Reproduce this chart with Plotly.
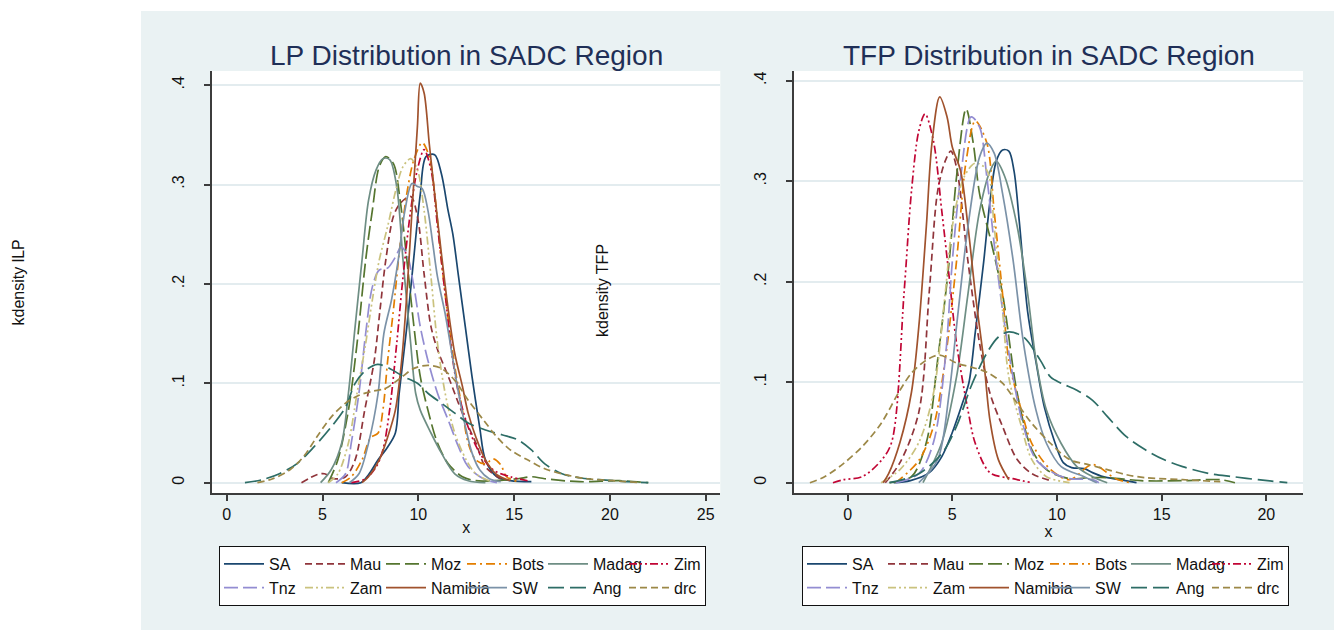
import plotly.graph_objects as go

# ---------------- data ----------------
countries = ["SA", "Mau", "Moz", "Bots", "Madag", "Zim", "Tnz", "Zam", "Namibia", "SW", "Ang", "drc"]
colors = ["#1A476F", "#90353B", "#55752F", "#E37E00", "#6E8E84", "#C10534",
          "#938DD2", "#CAC27E", "#A0522D", "#7B92A8", "#2D6D66", "#9C8847"]
dashes = ["solid", "7px,4px", "14px,5px", "9px,4px,2px,4px", "solid", "8px,3px,2px,3px,2px,3px",
          "14px,5px", "8px,3px,2px,3px,2px,3px", "solid", "solid", "16px,6px", "7px,4px"]

x_ticks_lp = [0, 5, 10, 15, 20, 25]
x_ticks_tfp = [0, 5, 10, 15, 20]
y_ticks = [0, 0.1, 0.2, 0.3, 0.4]
y_tick_labels = ["0", ".1", ".2", ".3", ".4"]

# ---- LP panel (kdensity lLP) ----
lp_sa_x = [6.0, 7.0, 7.4, 7.9, 8.4, 8.8, 9.0, 9.4, 9.75, 10.1, 10.4, 10.85, 11.2, 11.55, 11.8, 12.1, 12.45, 12.8, 13.2, 13.5, 14.1, 14.8, 15.9]
lp_sa_y = [0.0, 0.0, 0.008, 0.023, 0.036, 0.05, 0.09, 0.157, 0.224, 0.29, 0.328, 0.33, 0.311, 0.274, 0.25, 0.207, 0.157, 0.107, 0.056, 0.023, 0.006, 0.002, 0.001]
lp_mau_x = [3.9, 4.7, 5.1, 5.6, 6.2, 6.7, 7.2, 7.7, 8.0, 8.3, 8.7, 9.05, 9.6, 9.95, 10.3, 10.66, 11.0, 11.56, 12.3, 13.0, 13.5, 14.3]
lp_mau_y = [0.0, 0.008, 0.009, 0.004, 0.006, 0.023, 0.073, 0.123, 0.174, 0.224, 0.268, 0.281, 0.288, 0.268, 0.21, 0.157, 0.134, 0.107, 0.07, 0.04, 0.016, 0.004]
lp_moz_x = [5.3, 5.8, 6.35, 6.8, 7.25, 7.6, 7.96, 8.3, 8.7, 9.05, 9.4, 9.77, 10.1, 10.5, 11.0, 11.56, 12.3, 13.0, 14.0, 15.2, 15.9, 16.6, 18.4, 20.5, 22.0]
lp_moz_y = [0.0, 0.023, 0.073, 0.14, 0.224, 0.274, 0.318, 0.328, 0.321, 0.284, 0.224, 0.157, 0.107, 0.073, 0.04, 0.019, 0.006, 0.002, 0.002, 0.004, 0.006, 0.004, 0.001, 0.002, 0.0]
lp_bots_x = [6.0, 6.5, 7.06, 7.5, 7.9, 8.15, 8.4, 8.7, 9.05, 9.4, 9.77, 10.2, 10.57, 10.85, 11.2, 11.56, 11.9, 12.3, 12.6, 13.0, 13.5, 13.9, 14.3, 14.6, 15.2]
lp_bots_y = [0.0, 0.006, 0.023, 0.045, 0.05, 0.073, 0.123, 0.174, 0.24, 0.291, 0.325, 0.342, 0.328, 0.291, 0.224, 0.164, 0.117, 0.073, 0.04, 0.023, 0.019, 0.024, 0.018, 0.006, 0.001]
lp_madag_x = [4.9, 5.45, 6.0, 6.35, 6.7, 7.06, 7.4, 7.8, 8.15, 8.5, 8.87, 9.2, 9.6, 9.86, 10.1, 10.66, 11.2, 11.9, 12.6, 13.5]
lp_madag_y = [0.0, 0.013, 0.04, 0.09, 0.157, 0.224, 0.284, 0.315, 0.326, 0.325, 0.298, 0.224, 0.14, 0.09, 0.073, 0.05, 0.03, 0.009, 0.002, 0.0]
lp_zim_x = [6.5, 7.25, 7.8, 8.15, 8.5, 8.87, 9.2, 9.6, 9.95, 10.3, 10.66, 11.0, 11.4, 11.75, 12.1, 12.6, 13.2, 13.9, 14.8, 15.7]
lp_zim_y = [0.0, 0.004, 0.016, 0.033, 0.073, 0.14, 0.207, 0.274, 0.315, 0.335, 0.315, 0.258, 0.19, 0.13, 0.09, 0.056, 0.03, 0.013, 0.006, 0.002]
lp_tnz_x = [5.7, 6.2, 6.5, 6.9, 7.25, 7.6, 7.96, 8.4, 8.8, 9.1, 9.4, 9.77, 10.1, 10.5, 11.0, 11.56, 12.1, 12.6, 13.4, 14.1]
lp_tnz_y = [0.0, 0.009, 0.04, 0.09, 0.15, 0.197, 0.214, 0.216, 0.227, 0.237, 0.23, 0.197, 0.157, 0.123, 0.09, 0.063, 0.036, 0.016, 0.004, 0.0]
lp_zam_x = [5.3, 5.8, 6.35, 6.8, 7.25, 7.6, 7.96, 8.4, 8.87, 9.2, 9.6, 9.95, 10.3, 10.66, 11.0, 11.4, 11.9, 12.5, 13.0, 13.7]
lp_zam_y = [0.0, 0.009, 0.04, 0.09, 0.14, 0.184, 0.224, 0.258, 0.298, 0.318, 0.326, 0.315, 0.274, 0.207, 0.14, 0.09, 0.05, 0.023, 0.009, 0.002]
lp_namibia_x = [7.06, 7.4, 7.96, 8.4, 8.8, 9.13, 9.4, 9.67, 9.95, 10.1, 10.3, 10.57, 10.85, 11.2, 11.56, 11.9, 12.3, 12.6, 13.0, 13.5, 14.1, 14.8]
lp_namibia_y = [0.0, 0.006, 0.023, 0.046, 0.073, 0.123, 0.19, 0.274, 0.358, 0.402, 0.392, 0.341, 0.291, 0.231, 0.174, 0.13, 0.097, 0.07, 0.046, 0.023, 0.008, 0.002]
lp_sw_x = [6.4, 6.9, 7.4, 7.9, 8.2, 8.6, 8.95, 9.3, 9.67, 9.95, 10.2, 10.5, 10.75, 11.0, 11.4, 11.75, 12.1, 12.46, 12.8, 13.2, 13.7, 14.3]
lp_sw_y = [0.0, 0.009, 0.04, 0.09, 0.15, 0.184, 0.224, 0.274, 0.301, 0.298, 0.296, 0.274, 0.241, 0.207, 0.17, 0.13, 0.09, 0.056, 0.03, 0.013, 0.004, 0.001]
lp_ang_x = [0.95, 1.85, 2.75, 3.65, 4.55, 5.45, 6.2, 6.7, 7.25, 7.87, 8.5, 9.2, 9.95, 10.5, 11.2, 11.9, 12.6, 13.5, 14.4, 15.2, 15.9, 16.6, 17.5, 18.4, 20.2, 22.0]
lp_ang_y = [0.0, 0.003, 0.009, 0.019, 0.036, 0.056, 0.076, 0.1, 0.113, 0.119, 0.115, 0.107, 0.1, 0.09, 0.08, 0.07, 0.06, 0.053, 0.048, 0.043, 0.033, 0.019, 0.009, 0.005, 0.002, 0.0]
lp_drc_x = [1.6, 2.4, 3.3, 4.0, 4.7, 5.45, 6.2, 6.9, 7.6, 8.3, 9.05, 9.77, 10.5, 11.2, 11.9, 12.6, 13.4, 14.1, 14.8, 15.7, 16.6, 17.7, 18.8, 20.2, 21.6]
lp_drc_y = [0.0, 0.004, 0.013, 0.026, 0.046, 0.066, 0.08, 0.088, 0.092, 0.095, 0.105, 0.115, 0.118, 0.115, 0.103, 0.083, 0.063, 0.046, 0.033, 0.023, 0.014, 0.008, 0.004, 0.002, 0.0]

# ---- TFP panel (kdensity TFP) ----
tfp_sa_x = [2.2, 3.0, 3.9, 4.5, 5.0, 5.5, 5.8, 6.1, 6.5, 6.8, 7.1, 7.4, 7.7, 7.95, 8.2, 8.6, 9.0, 9.4, 9.9, 10.3, 10.7, 11.3, 11.7, 12.2, 13.0, 13.8]
tfp_sa_y = [0.0, 0.002, 0.01, 0.026, 0.05, 0.08, 0.1, 0.15, 0.22, 0.28, 0.32, 0.331, 0.33, 0.31, 0.26, 0.17, 0.12, 0.075, 0.04, 0.02, 0.015, 0.014, 0.01, 0.006, 0.003, 0.0]
tfp_mau_x = [1.8, 2.5, 3.4, 3.9, 4.3, 4.66, 4.93, 5.2, 5.75, 6.3, 6.8, 7.4, 8.1, 8.8, 9.7]
tfp_mau_y = [0.0, 0.02, 0.07, 0.19, 0.29, 0.32, 0.33, 0.314, 0.22, 0.139, 0.089, 0.056, 0.023, 0.009, 0.002]
tfp_moz_x = [2.0, 3.05, 3.76, 4.3, 4.85, 5.2, 5.66, 6.0, 6.3, 6.85, 7.4, 8.1, 8.8, 9.5, 10.6, 11.5, 12.5, 14.0, 16.0, 17.8, 18.5]
tfp_moz_y = [0.0, 0.006, 0.04, 0.122, 0.22, 0.304, 0.372, 0.338, 0.288, 0.24, 0.188, 0.089, 0.033, 0.013, 0.004, 0.005, 0.005, 0.002, 0.002, 0.003, 0.0]
tfp_bots_x = [2.3, 3.4, 4.1, 4.66, 5.2, 5.66, 6.1, 6.65, 7.0, 7.4, 7.7, 8.3, 8.8, 9.7, 10.6, 11.7, 12.8, 13.5]
tfp_bots_y = [0.0, 0.022, 0.056, 0.122, 0.22, 0.32, 0.36, 0.338, 0.27, 0.188, 0.122, 0.072, 0.039, 0.013, 0.003, 0.018, 0.004, 0.0]
tfp_madag_x = [3.6, 4.5, 5.2, 5.75, 6.3, 6.8, 7.1, 7.5, 8.1, 8.6, 9.0, 9.5, 10.2, 10.95, 11.7, 12.4]
tfp_madag_y = [0.0, 0.04, 0.105, 0.188, 0.27, 0.31, 0.32, 0.305, 0.255, 0.188, 0.122, 0.072, 0.039, 0.016, 0.006, 0.0]
tfp_zim_x = [-0.7, -0.2, 0.7, 1.6, 2.1, 2.7, 3.05, 3.4, 3.7, 4.1, 4.5, 4.85, 5.2, 5.75, 6.1, 6.8, 7.9, 8.8]
tfp_zim_y = [0.0, 0.003, 0.006, 0.022, 0.04, 0.19, 0.29, 0.35, 0.367, 0.34, 0.27, 0.205, 0.139, 0.072, 0.039, 0.01, 0.004, 0.0]
tfp_tnz_x = [2.3, 3.4, 4.1, 4.66, 5.0, 5.4, 5.9, 6.3, 6.65, 7.0, 7.4, 7.9, 8.4, 9.0, 9.9, 10.6, 11.7, 12.0]
tfp_tnz_y = [0.0, 0.009, 0.04, 0.122, 0.22, 0.304, 0.364, 0.354, 0.304, 0.238, 0.172, 0.105, 0.056, 0.023, 0.009, 0.004, 0.003, 0.0]
tfp_zam_x = [1.6, 2.5, 3.4, 4.1, 4.66, 5.0, 5.56, 6.1, 6.65, 7.0, 7.4, 7.7, 8.3, 8.8, 9.5, 10.6]
tfp_zam_y = [0.0, 0.013, 0.04, 0.089, 0.188, 0.255, 0.304, 0.318, 0.311, 0.255, 0.172, 0.105, 0.056, 0.023, 0.006, 0.0]
tfp_namibia_x = [1.7, 1.96, 2.5, 3.05, 3.4, 3.76, 4.03, 4.4, 4.75, 5.0, 5.4, 5.75, 6.1, 6.5, 6.8, 7.2, 7.7]
tfp_namibia_y = [0.0, 0.009, 0.04, 0.09, 0.155, 0.255, 0.338, 0.384, 0.364, 0.334, 0.31, 0.255, 0.188, 0.122, 0.062, 0.023, 0.003]
tfp_sw_x = [3.4, 4.3, 4.85, 5.2, 5.75, 6.3, 6.65, 7.0, 7.4, 7.9, 8.4, 9.0, 9.5, 10.2, 11.3, 11.9]
tfp_sw_y = [0.0, 0.023, 0.089, 0.155, 0.255, 0.324, 0.338, 0.328, 0.288, 0.222, 0.139, 0.072, 0.039, 0.016, 0.006, 0.0]
tfp_ang_x = [2.0, 3.4, 4.5, 5.2, 5.9, 6.65, 7.2, 7.7, 8.4, 9.2, 9.7, 10.2, 10.95, 11.7, 12.4, 13.3, 14.2, 15.1, 16.0, 17.3, 18.4, 19.6, 21.0]
tfp_ang_y = [0.0, 0.009, 0.029, 0.056, 0.096, 0.129, 0.145, 0.15, 0.145, 0.122, 0.105, 0.099, 0.092, 0.082, 0.066, 0.046, 0.033, 0.023, 0.016, 0.009, 0.006, 0.003, 0.0]
tfp_drc_x = [-1.8, -1.1, -0.2, 0.7, 1.6, 2.5, 3.05, 3.76, 4.4, 5.2, 5.9, 6.65, 7.4, 8.1, 8.8, 9.7, 10.6, 11.5, 12.4, 13.3, 14.2, 16.0, 17.8]
tfp_drc_y = [0.0, 0.006, 0.019, 0.036, 0.059, 0.092, 0.109, 0.122, 0.127, 0.119, 0.115, 0.11, 0.099, 0.079, 0.059, 0.039, 0.023, 0.018, 0.013, 0.008, 0.005, 0.003, 0.001]

lp_series = [(lp_sa_x, lp_sa_y), (lp_mau_x, lp_mau_y), (lp_moz_x, lp_moz_y), (lp_bots_x, lp_bots_y),
             (lp_madag_x, lp_madag_y), (lp_zim_x, lp_zim_y), (lp_tnz_x, lp_tnz_y), (lp_zam_x, lp_zam_y),
             (lp_namibia_x, lp_namibia_y), (lp_sw_x, lp_sw_y), (lp_ang_x, lp_ang_y), (lp_drc_x, lp_drc_y)]
tfp_series = [(tfp_sa_x, tfp_sa_y), (tfp_mau_x, tfp_mau_y), (tfp_moz_x, tfp_moz_y), (tfp_bots_x, tfp_bots_y),
              (tfp_madag_x, tfp_madag_y), (tfp_zim_x, tfp_zim_y), (tfp_tnz_x, tfp_tnz_y), (tfp_zam_x, tfp_zam_y),
              (tfp_namibia_x, tfp_namibia_y), (tfp_sw_x, tfp_sw_y), (tfp_ang_x, tfp_ang_y), (tfp_drc_x, tfp_drc_y)]

# ---------------- figure ----------------
FONT = "Liberation Sans, Arial, Helvetica, sans-serif"
BG = "#EAF2F3"
GRID = "#E3ECEF"
AXC = "#3C3C3C"
OFF = 8                      # the page body margin shifts the figure by 8 px
PAGE_W, PAGE_H = 1342, 630
W, H = PAGE_W - OFF, PAGE_H - OFF
ML, MR, MT, MB = 212 - OFF, 39, 71 - OFF, 137
PW, PH = W - ML - MR, H - MT - MB


def xp(px):
    """page pixel x -> paper coordinate"""
    return (px - OFF - ML) / PW


def yp(py):
    """page pixel y -> paper coordinate"""
    return (H - MB - (py - OFF)) / PH


fig = go.Figure()
for i, name in enumerate(countries):
    xs, ys = lp_series[i]
    fig.add_trace(go.Scatter(
        x=xs, y=ys, mode="lines", name=name, xaxis="x", yaxis="y",
        line=dict(color=colors[i], width=1.7, dash=dashes[i], shape="spline", smoothing=0.9),
        legend="legend", legendgroup="L%d" % (i % 6), showlegend=True, hoverinfo="skip"))
for i, name in enumerate(countries):
    xs, ys = tfp_series[i]
    fig.add_trace(go.Scatter(
        x=xs, y=ys, mode="lines", name=name, xaxis="x2", yaxis="y2",
        line=dict(color=colors[i], width=1.7, dash=dashes[i], shape="spline", smoothing=0.9),
        legend="legend2", legendgroup="R%d" % (i % 6), showlegend=True, hoverinfo="skip"))

xcommon = dict(ticks="outside", ticklen=6, tickwidth=1.5, tickcolor=AXC, showline=True, linecolor=AXC,
               linewidth=1.8, showgrid=False, zeroline=False, tickfont=dict(size=16, color="#111", family=FONT),
               title=dict(text="x", font=dict(size=16, color="#111", family=FONT), standoff=0))
ycommon = dict(ticks="outside", ticklen=6, tickwidth=1.5, tickcolor=AXC, showline=True, linecolor=AXC,
               linewidth=1.8, showgrid=True, gridcolor=GRID, gridwidth=1.5, zeroline=False,
               tickvals=y_ticks, ticktext=y_tick_labels, tickangle=-90, ticklabelstandoff=14,
               tickfont=dict(size=16, color="#111", family=FONT))

fig.update_layout(
    width=W, height=H,
    margin=dict(l=ML, r=MR, t=MT, b=MB, autoexpand=False),
    paper_bgcolor=BG, plot_bgcolor="white",
    font=dict(family=FONT, size=16, color="#111"),
    xaxis=dict(domain=[0, xp(720.3)], range=[-0.77, 25.76], tickvals=x_ticks_lp, anchor="y", **xcommon),
    yaxis=dict(domain=[0, 1], range=[-0.01036, 0.4142], anchor="x", **ycommon),
    xaxis2=dict(domain=[xp(794), 1], range=[-2.56, 21.75], tickvals=x_ticks_tfp, anchor="y2", **xcommon),
    yaxis2=dict(domain=[0, 1], range=[-0.01025, 0.4097], anchor="x2", **ycommon),
    legend=dict(orientation="h", x=xp(219), y=yp(546), xanchor="left", yanchor="top",
                bgcolor="white", bordercolor="#111", borderwidth=1, entrywidth=26, itemwidth=40,
                tracegroupgap=0, font=dict(size=16, color="#111", family=FONT)),
    legend2=dict(orientation="h", x=xp(802), y=yp(546), xanchor="left", yanchor="top",
                 bgcolor="white", bordercolor="#111", borderwidth=1, entrywidth=26, itemwidth=40,
                 tracegroupgap=0, font=dict(size=16, color="#111", family=FONT)),
    shapes=[
        dict(type="rect", xref="paper", yref="paper", x0=xp(0), x1=xp(141), y0=yp(PAGE_H), y1=yp(0),
             fillcolor="white", line=dict(width=0), layer="below"),
        dict(type="rect", xref="paper", yref="paper", x0=xp(0), x1=xp(PAGE_W), y0=yp(11), y1=yp(0),
             fillcolor="white", line=dict(width=0), layer="below"),
    ],
    annotations=[
        dict(text="LP Distribution in SADC Region", x=xp(466), y=yp(56), xref="paper", yref="paper",
             showarrow=False, xanchor="center", yanchor="middle",
             font=dict(size=28, color="#1F2F57", family=FONT)),
        dict(text="TFP Distribution in SADC Region", x=xp(1048.5), y=yp(56), xref="paper", yref="paper",
             showarrow=False, xanchor="center", yanchor="middle",
             font=dict(size=28, color="#1F2F57", family=FONT)),
        dict(text="kdensity lLP", x=xp(18), y=yp(282.5), xref="paper", yref="paper", textangle=-90,
             showarrow=False, xanchor="center", yanchor="middle", font=dict(size=16, color="#111", family=FONT)),
        dict(text="kdensity TFP", x=xp(602), y=yp(291), xref="paper", yref="paper", textangle=-90,
             showarrow=False, xanchor="center", yanchor="middle", font=dict(size=16, color="#111", family=FONT)),
    ],
)

fig.write_html("out.html")
